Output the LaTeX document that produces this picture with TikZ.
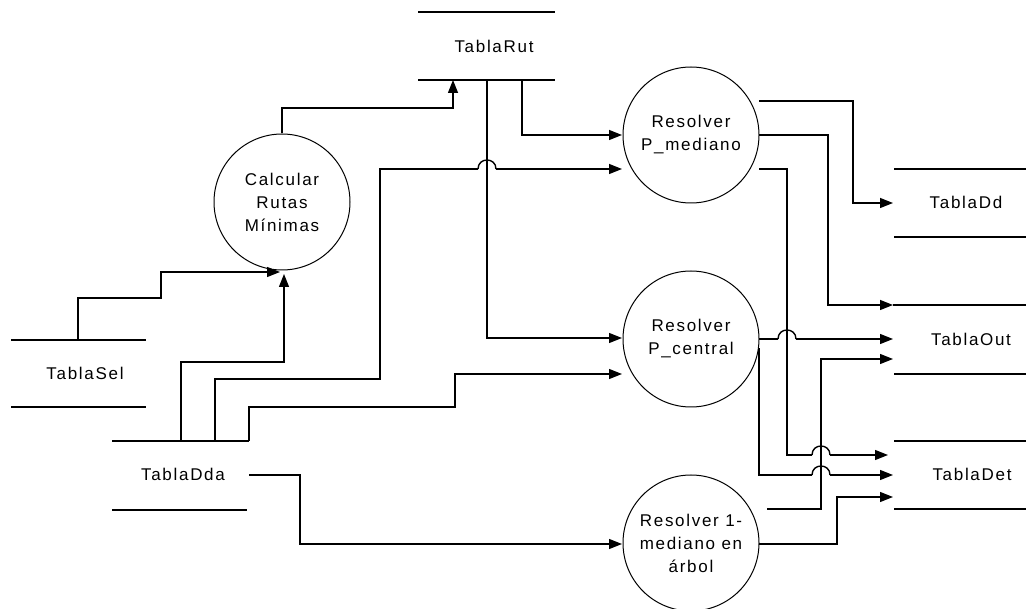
\documentclass[tikz,border=0pt]{standalone}
\usepackage{fontspec}
\setmainfont{Liberation Sans}[LetterSpace=10]
\usetikzlibrary{arrows.meta}
\begin{document}
\begin{tikzpicture}[x=1pt,y=-1pt,
  conn/.style={line width=1.4pt,-{Triangle[length=13pt,width=10pt]}},
  plain/.style={line width=1.4pt},
  storeline/.style={line width=1.4pt},
  proc/.style={circle,draw,line width=1pt,minimum size=136pt,inner sep=0pt,align=center,font=\fontsize{17}{23}\selectfont},
  lbl/.style={inner sep=0pt,font=\fontsize{17}{20}\selectfont},
]
\fill[white] (0,0) rectangle (1026,609);
\useasboundingbox (0,0) rectangle (1026,609);

% data stores
\node[lbl] (rut) at (494,46) {TablaRut};
\node[lbl] (sel) at (85,373) {TablaSel};
\node[lbl] (dda) at (183,474) {TablaDda};
\node[lbl] (dd)  at (966,202) {TablaDd};
\node[lbl] (out) at (971,339) {TablaOut};
\node[lbl] (det) at (972,474) {TablaDet};
\draw[storeline] (418,12) -- (555,12) (418,80) -- (555,80);
\draw[storeline] (11,340) -- (146,340) (11,407) -- (146,407);
\draw[storeline] (112,441) -- (249,441) (112,510) -- (247,510);
\draw[storeline] (894,169) -- (1026,169) (894,237) -- (1026,237);
\draw[storeline] (893,305) -- (1026,305) (894,374) -- (1026,374);
\draw[storeline] (894,441) -- (1026,441) (894,509) -- (1026,509);

% processes
\node[proc] (calc) at (282,202) {Calcular\\Rutas\\Mínimas};
\node[proc] (pm) at (691,135) {Resolver\\P\_mediano};
\node[proc] (pc) at (691,339) {Resolver\\P\_central};
\node[proc] (p1) at (691,543) {Resolver 1-\\mediano en\\árbol};

% ports
\coordinate (rutA) at (453,80);
\coordinate (rutO1) at (487,80);
\coordinate (rutO2) at (522,80);
\coordinate (selO) at (78,340);
\coordinate (ddaO1) at (181,441);
\coordinate (ddaO2) at (215,441);
\coordinate (ddaO3) at (249,441);
\coordinate (ddaO4) at (249,475);
\coordinate (calcIn1) at (280,272);
\coordinate (calcIn2) at (284,274);
\coordinate (pmIn1) at (622,135);
\coordinate (pmIn2) at (622,169);
\coordinate (pcIn1) at (622,338);
\coordinate (pcIn2) at (622,374);
\coordinate (p1In) at (622,544);
\coordinate (pmO1) at (759,101);
\coordinate (pmO2) at (759,135);
\coordinate (pmO3) at (759,169);
\coordinate (pcO1) at (759,339);
\coordinate (pcO2) at (759,348);
\coordinate (p1O1) at (767,509);
\coordinate (p1O2) at (759,544);
\coordinate (ddIn) at (893,203);
\coordinate (outIn1) at (893,305);
\coordinate (outIn2) at (893,339);
\coordinate (outIn3) at (893,359);
\coordinate (detIn1) at (888,455);
\coordinate (detIn2) at (893,475);
\coordinate (detIn3) at (893,497);
% line-jump points
\coordinate (j1a) at (478,169); \coordinate (j1b) at (496,169);
\coordinate (j2a) at (778,339); \coordinate (j2b) at (796,339);
\coordinate (j3a) at (812,455); \coordinate (j3b) at (830,455);
\coordinate (j4a) at (812,475); \coordinate (j4b) at (830,475);

% connectors
\draw[conn] (calc.north) -- (282,108) -| (rutA);
\draw[conn] (selO) -- (78,298) -| (161,272) -- (calcIn1);
\draw[conn] (ddaO1) |- (284,362) -- (calcIn2);
\draw[plain] (ddaO2) |- (380,379) -- (380,169) -- (j1a);
\draw[plain] (j1a) .. controls (478,157) and (496,157) .. (j1b);
\draw[conn] (j1b) -- (pmIn2);
\draw[conn] (ddaO3) |- (455,407) |- (pcIn2);
\draw[conn] (ddaO4) -| (300,544) -- (p1In);
\draw[conn] (rutO1) |- (pcIn1);
\draw[conn] (rutO2) |- (pmIn1);
\draw[conn] (pmO1) -| (853,203) -- (ddIn);
\draw[conn] (pmO2) -| (828,305) -- (outIn1);
\draw[conn] (p1O1) -| (821,359) -- (outIn3);
\draw[conn] (p1O2) -| (837,497) -- (detIn3);
\draw[plain] (pmO3) -| (787,455) -- (j3a);
\draw[plain] (j3a) .. controls (812,443) and (830,443) .. (j3b);
\draw[conn] (j3b) -- (detIn1);
\draw[plain] (pcO1) -- (j2a);
\draw[plain] (j2a) .. controls (778,327) and (796,327) .. (j2b);
\draw[conn] (j2b) -- (outIn2);
\draw[plain] (pcO2) |- (j4a);
\draw[plain] (j4a) .. controls (812,463) and (830,463) .. (j4b);
\draw[conn] (j4b) -- (detIn2);
\end{tikzpicture}
\end{document}
